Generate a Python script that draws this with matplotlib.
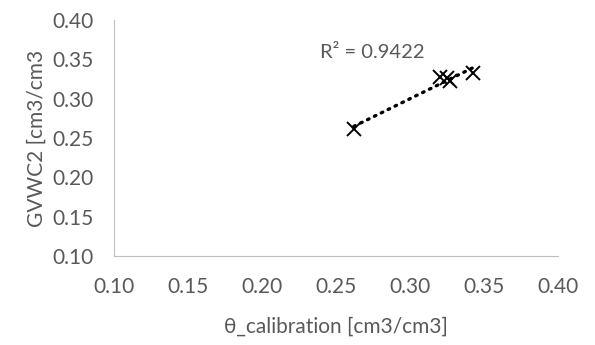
import matplotlib
matplotlib.use("Agg")
import matplotlib.pyplot as plt
import numpy as np

plt.rcParams['font.family'] = ['Lato', 'DejaVu Sans']

theta_cal = [0.262, 0.320, 0.325, 0.327, 0.3425]
gvwc2 = [0.262, 0.328, 0.326, 0.322, 0.3325]
r2_text = "R² = 0.9422"
ticks = [0.10, 0.15, 0.20, 0.25, 0.30, 0.35, 0.40]

grey = '#595959'
fig = plt.figure(figsize=(5.95, 3.45), dpi=100)
ax = fig.add_axes([0.1916, 0.258, 0.7462, 0.684])

# trendline
x = np.array(theta_cal)
y = np.array(gvwc2)
k, c = np.polyfit(x, y, 1)
xl = np.array([x.min(), x.max()])
ax.plot(xl, k*xl + c, color='black', lw=2.4, ls=(0, (0.5, 1.8)), dash_capstyle='round')

ax.plot(theta_cal, gvwc2, ls='none', marker='x', ms=10, mew=1.4, color='black')

ax.text(0.239, 0.352, r2_text, fontsize=14.5, color=grey)

ax.set_xlim(0.10, 0.40)
ax.set_ylim(0.10, 0.40)
ax.set_xticks(ticks)
ax.set_yticks(ticks)
ax.set_xticklabels(["%.2f" % t for t in ticks])
ax.set_yticklabels(["%.2f" % t for t in ticks])
ax.tick_params(length=0, labelsize=15, labelcolor=grey)
ax.tick_params(axis='x', pad=15)
ax.tick_params(axis='y', pad=15)
for s in ['top', 'right']:
    ax.spines[s].set_visible(False)
for s in ['left', 'bottom']:
    ax.spines[s].set_color('#bfbfbf')
ax.set_xlabel("θ_calibration [cm3/cm3]", fontsize=15, color=grey, labelpad=14)
ax.set_ylabel("GVWC2 [cm3/cm3", fontsize=15, color=grey, labelpad=4)

fig.savefig("out.png", dpi=100)
